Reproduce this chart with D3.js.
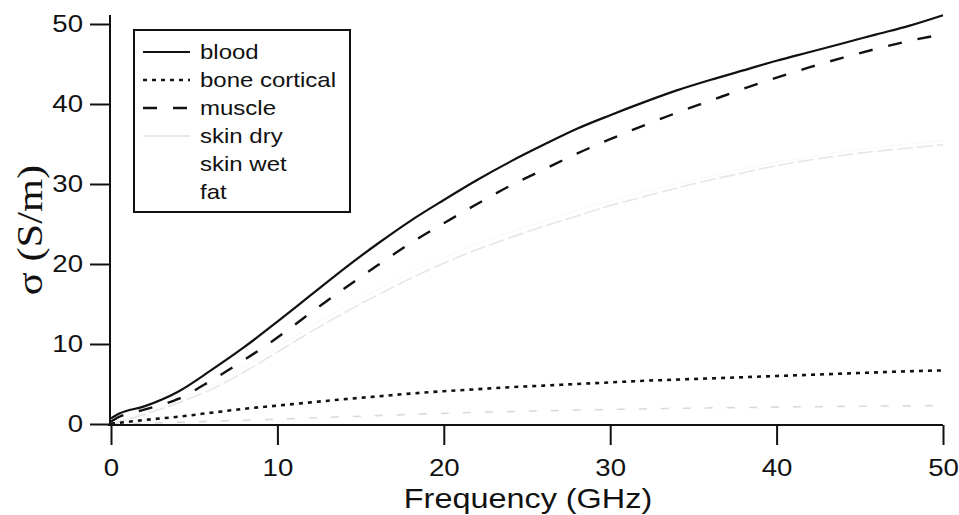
<!DOCTYPE html>
<html>
<head>
<meta charset="utf-8">
<script src="https://cdn.jsdelivr.net/npm/d3@7"></script>
<style>
  body { margin: 0; background: #fff; }
  svg { display: block; }
  text { fill: #111; }
</style>
</head>
<body>
<div id="chart"></div>
<script>
// frequency grid (GHz) shared by every tissue
const freq = [0, 0.5, 2, 4, 6, 8, 10, 12, 14, 16, 18, 20, 22, 24, 26, 28, 30, 32, 34, 36, 38, 40, 42, 44, 46, 48, 50];

// conductivity sigma (S/m)
const blood   = [0.7, 1.3, 2.2, 4.0, 6.7, 9.6, 12.8, 16.1, 19.4, 22.5, 25.4, 28.0, 30.5, 32.8, 34.9, 36.9, 38.6, 40.2, 41.7, 43.0, 44.2, 45.4, 46.5, 47.6, 48.7, 49.8, 51.1];
const bone    = [0.05, 0.15, 0.5, 0.9, 1.4, 1.9, 2.3, 2.7, 3.1, 3.45, 3.8, 4.1, 4.35, 4.6, 4.8, 5.0, 5.2, 5.4, 5.55, 5.7, 5.85, 6.0, 6.15, 6.3, 6.45, 6.6, 6.7];
const muscle  = [0.3, 0.9, 1.8, 3.1, 5.4, 8.0, 10.8, 13.9, 16.9, 19.8, 22.6, 25.1, 27.5, 29.8, 31.8, 33.8, 35.6, 37.3, 38.9, 40.4, 41.9, 43.3, 44.6, 45.8, 46.9, 47.9, 48.7];
const skinDry = [0, 0.3, 1.2, 2.6, 4.3, 6.5, 9.0, 11.5, 13.9, 16.1, 18.2, 20.1, 21.8, 23.3, 24.7, 26.0, 27.3, 28.4, 29.5, 30.5, 31.4, 32.3, 33.0, 33.6, 34.1, 34.5, 34.9];
const skinWet = [0, 0.4, 1.4, 2.9, 4.8, 7.1, 9.6, 12.2, 14.6, 16.8, 18.9, 20.8, 22.5, 24.0, 25.4, 26.7, 27.9, 29.0, 30.0, 31.0, 31.9, 32.7, 33.4, 34.0, 34.5, 35.0, 35.4];
const fat     = [0.03, 0.04, 0.1, 0.2, 0.33, 0.47, 0.6, 0.75, 0.9, 1.05, 1.2, 1.33, 1.45, 1.55, 1.65, 1.74, 1.82, 1.89, 1.95, 2.01, 2.06, 2.11, 2.16, 2.2, 2.24, 2.27, 2.3];

const seriesNames = ["blood", "bone cortical", "muscle", "skin dry", "skin wet", "fat"];
const xTicks = [0, 10, 20, 30, 40, 50];
const yTicks = [0, 10, 20, 30, 40, 50];

// key: stroke used in the legend box, which differs for the faint ones
const series = [
  { name: seriesNames[0], values: blood,   color: "#111",    key: "#111",    width: 2.2, dash: null },
  { name: seriesNames[1], values: bone,    color: "#111",    key: "#111",    width: 2.6, dash: "4,5" },
  { name: seriesNames[2], values: muscle,  color: "#111",    key: "#111",    width: 2.4, dash: "14,16" },
  { name: seriesNames[3], values: skinDry, color: "#ebe4e5", key: "#e2e2e2", width: 1.6, dash: "16,4" },
  { name: seriesNames[4], values: skinWet, color: "#fbfafa", key: "#fff",    width: 1.4, dash: null },
  { name: seriesNames[5], values: fat,     color: "#dadada", key: "#fff",    width: 1.6, dash: "8,14" }
];

const width = 959, height = 515;
const sx = 1.2; // picture is stretched horizontally
const sans = "'Liberation Sans', Arial, sans-serif";

const svg = d3.select("#chart").append("svg")
  .attr("width", width)
  .attr("height", height);

const x = d3.scaleLinear().domain([0, 50]).range([111, 943]);
const y = d3.scaleLinear().domain([0, 50]).range([424, 24]);

// lines
const line = d3.line()
  .x((d, i) => x(freq[i]))
  .y(d => y(d))
  .curve(d3.curveMonotoneX);

svg.append("g").selectAll("path")
  .data(series.slice().reverse())
  .join("path")
  .attr("fill", "none")
  .attr("stroke", d => d.color)
  .attr("stroke-width", d => d.width)
  .attr("stroke-dasharray", d => d.dash)
  .attr("d", d => line(d.values));

// x axis
const xAxis = svg.append("g")
  .attr("transform", "translate(0,425)")
  .call(d3.axisBottom(x).tickValues(xTicks).tickSize(20).tickSizeOuter(0).tickPadding(15));
xAxis.select(".domain").attr("stroke", "#111").attr("stroke-width", 2).attr("d", "M108,0H943");
xAxis.selectAll(".tick line").attr("stroke", "#111").attr("stroke-width", 2);
xAxis.selectAll(".tick text")
  .style("font-family", sans)
  .style("font-size", "23px")
  .attr("fill", "#111")
  .attr("transform", `scale(${sx},1)`);

// y axis
const yAxis = svg.append("g")
  .attr("transform", "translate(110,0)")
  .call(d3.axisLeft(y).tickValues(yTicks).tickSize(20).tickSizeOuter(0).tickPadding(7));
yAxis.select(".domain").attr("stroke", "#111").attr("stroke-width", 2).attr("d", "M0,15V426");
yAxis.selectAll(".tick line").attr("stroke", "#111").attr("stroke-width", 2);
yAxis.selectAll(".tick text")
  .style("font-family", sans)
  .style("font-size", "23px")
  .attr("fill", "#111")
  .attr("x", -27 / sx)
  .attr("transform", `scale(${sx},1)`);

// axis titles
svg.append("text")
  .attr("transform", `translate(528,508) scale(${sx},1)`)
  .attr("text-anchor", "middle")
  .style("font-family", sans)
  .style("font-size", "27px")
  .text("Frequency (GHz)");

svg.append("text")
  .attr("transform", `translate(42,230) rotate(-90) scale(1.25,1.05)`)
  .attr("text-anchor", "middle")
  .style("font-family", "'Liberation Serif', 'Times New Roman', serif")
  .style("font-size", "34px")
  .text("σ (S/m)");

// legend
const legend = svg.append("g");
legend.append("rect")
  .attr("x", 134).attr("y", 30)
  .attr("width", 216).attr("height", 182)
  .attr("fill", "#fff")
  .attr("stroke", "#111")
  .attr("stroke-width", 2);

const rowH = 28;
const rows = legend.selectAll("g.row")
  .data(series)
  .join("g")
  .attr("class", "row")
  .attr("transform", (d, i) => `translate(0,${52 + i * rowH})`);

rows.append("line")
  .attr("x1", 143).attr("x2", 190)
  .attr("y1", 0).attr("y2", 0)
  .attr("stroke", d => d.key)
  .attr("stroke-width", d => d.width)
  .attr("stroke-dasharray", d => d.name === "skin dry" ? null : d.dash);

rows.append("text")
  .attr("transform", `translate(200,7) scale(${sx},1)`)
  .style("font-family", sans)
  .style("font-size", "20px")
  .text(d => d.name);
</script>
</body>
</html>
